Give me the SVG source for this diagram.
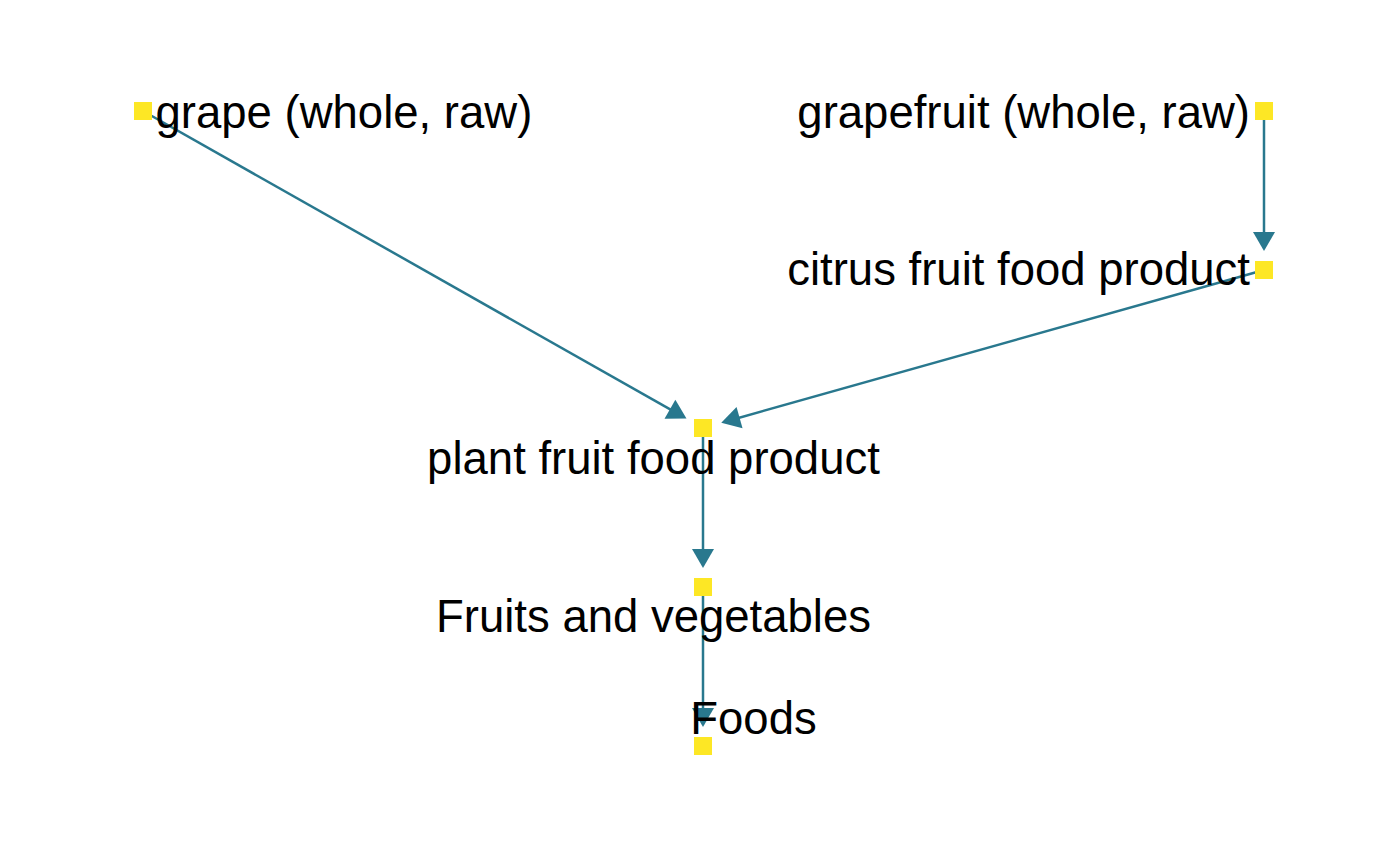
<svg xmlns="http://www.w3.org/2000/svg" width="1400" height="865" viewBox="0 0 1400 865">
<style>
.edge{stroke:#29788E;stroke-width:2.5;fill:none;marker-end:url(#arr)}
.node{fill:#FDE725}
.lbl{font-family:"Liberation Sans",Arial,sans-serif;font-size:45.5px;fill:#000}
</style>
<defs>
<marker id="arr" markerUnits="userSpaceOnUse" markerWidth="20" markerHeight="22" refX="15" refY="11" orient="auto" overflow="visible">
<path d="M0,0 L19,11 L0,22 Z" fill="#29788E"/>
</marker>
</defs>
<rect width="1400" height="865" fill="#fff"/>
<g id="edges">
<line class="edge" x1="143" y1="111" x2="683" y2="416.6"/>
<line class="edge" x1="1264" y1="270" x2="725.1" y2="421.7"/>
<line class="edge" x1="1264" y1="111" x2="1264" y2="247"/>
<line class="edge" x1="703" y1="428" x2="703" y2="564"/>
<line class="edge" x1="703" y1="587" x2="703" y2="723"/>
</g>
<g id="node-grape"><rect class="node" x="134" y="102" width="18" height="18"/><text class="lbl" x="155.5" y="128">grape (whole, raw)</text></g>
<g id="node-grapefruit"><rect class="node" x="1255" y="102" width="18" height="18"/><text class="lbl" x="1250" y="128" text-anchor="end">grapefruit (whole, raw)</text></g>
<g id="node-citrus"><rect class="node" x="1255" y="261" width="18" height="18"/><text class="lbl" x="1250" y="285" text-anchor="end">citrus fruit food product</text></g>
<g id="node-plant"><rect class="node" x="694" y="419" width="18" height="18"/><text class="lbl" x="653.5" y="474" text-anchor="middle">plant fruit food product</text></g>
<g id="node-fruitsveg"><rect class="node" x="694" y="578" width="18" height="18"/><text class="lbl" x="653.5" y="632" text-anchor="middle">Fruits and vegetables</text></g>
<g id="node-foods"><rect class="node" x="694" y="737" width="18" height="18"/><text class="lbl" x="753.5" y="734" text-anchor="middle">Foods</text></g>
</svg>
